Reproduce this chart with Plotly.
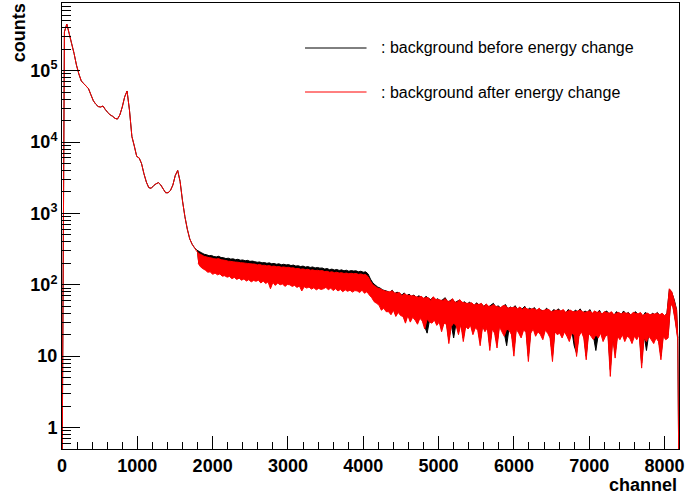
import plotly.graph_objects as go

# ---------------- data ----------------
bin_width = 32  # channels per sample point

# low-energy part (ch 0 .. 1760, every 32 channels) - both series coincide here
peak_counts = [0.1, 3.5e5, 4.5e5, 3.3e5, 2.4e5, 1.75e5, 1.2e5, 9.0e4, 7.2e4, 6.6e4,
               6.1e4, 5.6e4, 4.6e4, 3.8e4, 3.4e4, 3.15e4, 3.1e4, 3.2e4, 2.85e4, 2.6e4,
               2.4e4, 2.3e4, 2.15e4, 2.1e4, 2.4e4, 3.1e4, 4.3e4, 5.2e4, 2.8e4, 1.2e4,
               8.8e3, 6.3e3, 6.0e3, 5.0e3, 3.6e3, 2.75e3, 2.3e3, 2.25e3, 2.45e3, 2.6e3,
               2.7e3, 2.5e3, 2.2e3, 1.95e3, 1.95e3, 2.1e3, 2.5e3, 3.4e3, 4.0e3, 2.8e3,
               1.5e3, 900, 600, 440, 370, 330]

noise_start = 1792  # first channel of the noisy part (200 bins of 32 channels)

# per-bin maximum / minimum of each noisy spectrum
black_hi = [305, 292, 280, 268, 264, 255, 258, 249, 246, 251,
            241, 240, 233, 236, 229, 231, 225, 228, 221, 223,
            217, 220, 213, 215, 211, 207, 209, 203, 205, 200,
            203, 197, 199, 194, 197, 191, 194, 190, 192, 186,
            189, 183, 185, 180, 183, 177, 180, 175, 178, 172,
            175, 171, 172, 166, 169, 163, 166, 161, 164, 159,
            162, 157, 160, 155, 158, 156, 157, 152, 155, 150,
            152, 142, 120, 106, 99, 93, 90, 85, 83, 81,
            78, 84, 75, 79, 76, 72, 77, 70, 74, 69,
            72, 66, 70, 68, 63, 69, 65, 62, 67, 61,
            64, 59, 62, 66, 57, 60, 63, 56, 59, 61,
            55, 58, 53, 57, 54, 51, 56, 52, 54, 50,
            53, 49, 52, 55, 48, 51, 47, 50, 53, 46,
            49, 47, 51, 45, 48, 46, 50, 44, 47, 45,
            48, 43, 46, 44, 42, 47, 44, 41, 45, 43,
            46, 42, 44, 40, 45, 43, 41, 44, 42, 46,
            40, 43, 41, 45, 39, 42, 40, 44, 38, 41,
            43, 39, 41, 37, 42, 40, 38, 43, 39, 41,
            37, 40, 42, 38, 40, 36, 41, 39, 37, 40,
            38, 41, 37, 39, 36, 40, 86, 78, 62, 45]

black_lo = [205, 190, 176, 168, 160, 158, 152, 150, 146, 148,
            142, 140, 136, 138, 132, 134, 128, 130, 125, 127,
            122, 124, 119, 121, 117, 119, 114, 116, 112, 114,
            110, 112, 108, 110, 106, 108, 104, 106, 103, 104,
            101, 103, 99, 101, 98, 100, 96, 98, 95, 97,
            94, 96, 93, 95, 92, 93, 90, 92, 89, 91,
            88, 90, 87, 89, 86, 88, 86, 87, 85, 86,
            84, 78, 70, 62, 58, 55, 52, 50, 48, 46,
            40, 46, 38, 43, 39, 38, 31, 39, 32, 37,
            34, 30, 36, 33, 26, 21, 32, 31, 34, 29,
            32, 24, 31, 30, 17, 28, 18, 29, 22, 30,
            18, 28, 26, 29, 22, 27, 25, 16, 28, 24,
            27, 14, 26, 23, 15, 28, 24, 21, 14, 25,
            22, 12, 26, 23, 20, 25, 24, 10, 23, 26,
            21, 24, 22, 19, 25, 23, 20, 10, 24, 22,
            23, 20, 24, 21, 18, 23, 14, 11, 21, 24,
            20, 10, 23, 21, 19, 12, 20, 23, 18, 21,
            22, 6.5, 20, 11, 21, 19, 22, 18, 21, 20,
            17, 21, 19, 22, 8, 20, 12, 21, 19, 17,
            20, 18, 10, 21, 19, 20, 57, 50, 32, 18]

red_hi = [290, 272, 262, 250, 246, 240, 238, 232, 230, 233,
          224, 222, 219, 214, 213, 210, 208, 207, 204, 203,
          201, 199, 197, 196, 195, 190, 193, 187, 188, 184,
          186, 181, 183, 179, 180, 176, 178, 175, 176, 172,
          173, 168, 170, 165, 167, 163, 165, 160, 162, 158,
          160, 157, 158, 153, 155, 150, 152, 148, 150, 146,
          148, 144, 146, 143, 145, 143, 144, 140, 142, 138,
          139, 130, 112, 100, 95, 90, 88, 84, 82, 80,
          80, 82, 77, 76, 78, 70, 75, 72, 71, 70,
          70, 68, 67, 69, 65, 66, 66, 60, 68, 63,
          62, 61, 60, 64, 59, 58, 64, 57, 57, 62,
          57, 56, 55, 55, 56, 52, 54, 53, 55, 49,
          54, 50, 50, 53, 50, 49, 48, 51, 51, 47,
          48, 48, 49, 46, 49, 45, 48, 46, 45, 46,
          46, 44, 47, 43, 44, 45, 45, 42, 43, 44,
          44, 43, 45, 41, 43, 44, 42, 42, 43, 44,
          42, 41, 42, 43, 40, 43, 41, 42, 39, 42,
          41, 40, 42, 38, 40, 41, 39, 41, 40, 40,
          38, 41, 40, 39, 41, 37, 39, 40, 38, 39,
          39, 40, 38, 40, 37, 39, 88, 80, 60, 44]

red_lo = [200, 178, 168, 160, 150, 152, 140, 146, 138, 142,
          132, 134, 128, 131, 122, 127, 119, 124, 116, 121,
          113, 118, 110, 115, 112, 116, 106, 113, 104, 110,
          88, 108, 98, 106, 100, 103, 95, 101, 100, 95,
          98, 92, 96, 82, 94, 90, 93, 87, 91, 85,
          89, 86, 88, 92, 85, 90, 83, 88, 82, 86,
          80, 85, 81, 84, 79, 83, 82, 78, 84, 76,
          80, 72, 66, 58, 55, 52, 44, 47, 42, 42,
          38, 44, 36, 41, 37, 36, 29, 37, 30, 35,
          32, 28, 34, 31, 24, 33, 30, 29, 32, 27,
          30, 22, 29, 28, 15, 26, 29, 27, 20, 28,
          16, 26, 24, 27, 20, 25, 23, 14, 26, 22,
          25, 12, 24, 21, 13, 26, 22, 19, 24, 23,
          20, 10, 24, 21, 18, 23, 22, 8.4, 21, 24,
          19, 22, 20, 17, 23, 21, 18, 8.4, 22, 20,
          21, 18, 22, 19, 16, 21, 20, 9.9, 19, 22,
          18, 8.9, 21, 19, 17, 20, 18, 21, 16, 19,
          20, 5.2, 18, 9.4, 19, 17, 20, 16, 19, 18,
          15, 19, 17, 20, 6.8, 18, 16, 19, 17, 15,
          18, 16, 8.9, 19, 17, 18, 55, 48, 30, 17]

end_channel = 8192
end_counts = 0.1  # histogram falls to zero after the last channel

series_names = [": background before energy change", ": background after energy change"]
series_colors = ["#000000", "#ff0000"]

y_tick_vals = [1, 10, 100, 1000, 10000, 100000]
y_tick_text = ["1", "10", "10<sup>2</sup>", "10<sup>3</sup>", "10<sup>4</sup>", "10<sup>5</sup>"]


FONT = "Liberation Sans, Arial, Helvetica, sans-serif"
W, H = 686, 496
L, R, T, B = 62, 2, 3, 47

fig = go.Figure()
for hi, lo, name, col in zip([black_hi, red_hi], [black_lo, red_lo], series_names, series_colors):
    hi_x = [noise_start + j * bin_width for j in range(len(hi))]
    lo_x = [c + bin_width / 2 for c in hi_x]
    # smooth low-energy part, joined to the first point of the noisy band
    sx = [k * bin_width for k in range(len(peak_counts))] + [hi_x[0]]
    sy = list(peak_counts) + [hi[0]]
    fig.add_trace(go.Scatter(x=sx, y=sy, mode="lines", name=name,
                             line=dict(color=col, width=1, simplify=False),
                             showlegend=False, hoverinfo="skip"))
    # noisy part: band between per-bin max and min
    bx = hi_x + lo_x[::-1]
    by = list(hi) + list(lo)[::-1]
    fig.add_trace(go.Scatter(x=bx, y=by, mode="lines", fill="toself", fillcolor=col,
                             line=dict(color=col, width=1, simplify=False),
                             showlegend=False, hoverinfo="skip"))
    # drop to zero after the last channel
    fig.add_trace(go.Scatter(x=[lo_x[-1], end_channel], y=[lo[-1], end_counts], mode="lines",
                             line=dict(color=col, width=1), showlegend=False, hoverinfo="skip"))

minor_y = [m * 10 ** d for d in range(-1, 6) for m in range(2, 10)]

fig.update_layout(
    width=W, height=H,
    margin=dict(l=L, r=R, t=T, b=B, pad=0),
    paper_bgcolor="white", plot_bgcolor="white",
    font=dict(family=FONT, color="black"),
    xaxis=dict(range=[0, 8192], showgrid=False, zeroline=False,
               showline=True, linecolor="black", linewidth=1, mirror=True,
               ticks="inside", ticklen=13, tickcolor="black", tickwidth=1,
               tick0=0, dtick=1000, ticklabeloverflow="allow",
               tickfont=dict(family=FONT, size=18, weight="bold", color="black"),
               minor=dict(ticks="inside", ticklen=7, dtick=200, tick0=0,
                          tickcolor="black", tickwidth=1, showgrid=False)),
    yaxis=dict(type="log", range=[-0.301, 5.949], showgrid=False, zeroline=False,
               showline=True, linecolor="black", linewidth=1, mirror=True,
               ticks="inside", ticklen=18, tickcolor="black", tickwidth=1,
               tickmode="array", tickvals=y_tick_vals, ticktext=y_tick_text,
               tickfont=dict(family=FONT, size=18, weight="bold", color="black"),
               minor=dict(ticks="inside", ticklen=9, tickmode="array", tickvals=minor_y,
                          tickcolor="black", tickwidth=1, showgrid=False)),
)


def px_x(p):
    return (p - L) / (W - L - R)


def px_y(p):
    return (H - B - p) / (H - T - B)


# axis titles (ROOT style: at the ends of the axes)
fig.add_annotation(text="<b>counts</b>", textangle=-90, xref="paper", yref="paper",
                   x=px_x(19), y=px_y(33), xanchor="center", yanchor="middle",
                   showarrow=False, font=dict(family=FONT, size=18, color="black"))
fig.add_annotation(text="<b>channel</b>", xref="paper", yref="paper",
                   x=px_x(684), y=px_y(485), xanchor="right", yanchor="middle",
                   showarrow=False, font=dict(family=FONT, size=18, color="black"))

# legend (ROOT TLegend look)
for name, col, ypix in zip(series_names, series_colors, [48, 92]):
    fig.add_shape(type="line", xref="paper", yref="paper",
                  x0=px_x(307), x1=px_x(369), y0=px_y(ypix), y1=px_y(ypix),
                  line=dict(color=col, width=1))
    fig.add_annotation(text=name, xref="paper", yref="paper",
                       x=px_x(382), y=px_y(ypix), xanchor="left", yanchor="middle",
                       showarrow=False, font=dict(family=FONT, size=16, color="black"))

fig.write_html("out.html")
